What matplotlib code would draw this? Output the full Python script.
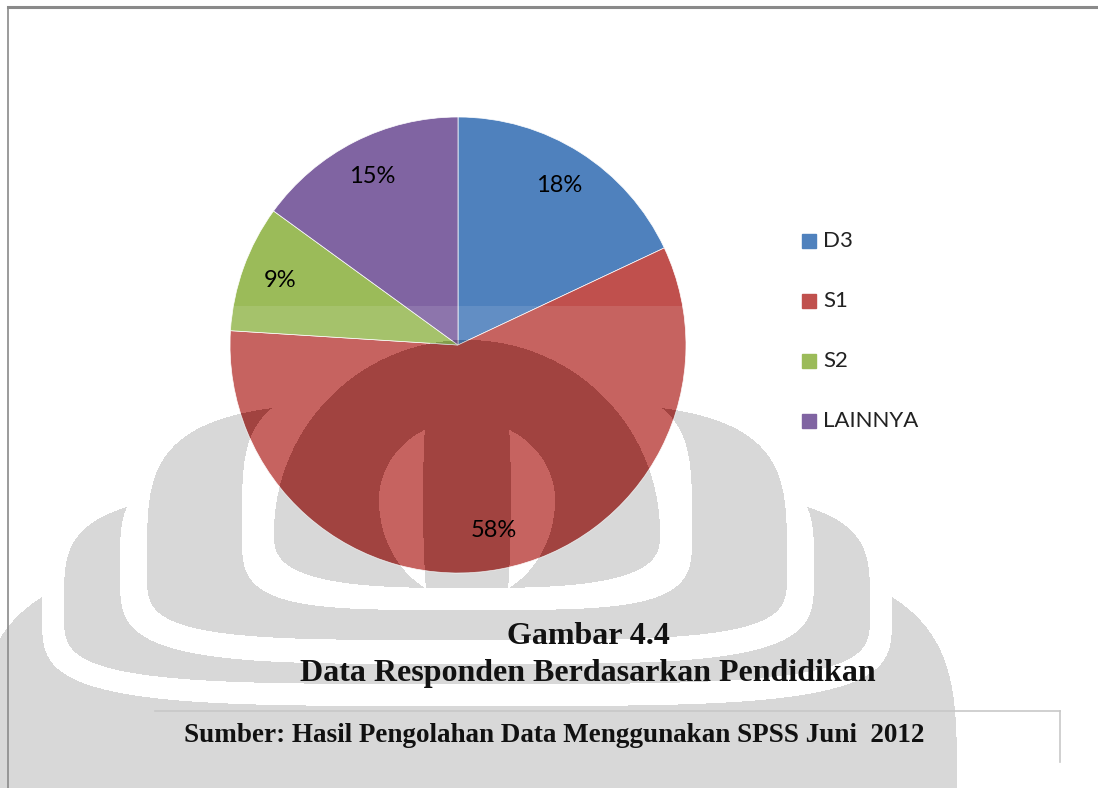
import numpy as np
import matplotlib
matplotlib.use('Agg')
from matplotlib import pyplot as plt
from matplotlib.patches import Circle

# Data
categories = ['D3', 'S1', 'S2', 'LAINNYA']
percent = [18, 58, 9, 15]
colors = ['#4F81BD', '#C0504D', '#9BBB59', '#8064A2']

title_lines = ['Gambar 4.4', 'Data Responden Berdasarkan Pendidikan']
source_text = 'Sumber: Hasil Pengolahan Data Menggunakan SPSS Juni  2012'

W, H = 1098, 788
PIE_C = (458, 345)   # picture coords (row counted from top)
PIE_R = 228

fig = plt.figure(figsize=(W / 100, H / 100), dpi=100)
ax = fig.add_axes([0, 0, 1, 1])

def py(y):
	# convert picture row to axes y
	return H - y

# background watermark (scanned page logo), built as a pixel mask
X, Y = np.meshgrid(np.arange(W) + 0.5, np.arange(H) + 0.5)
XC = 467

def blob(cy, a, bu, bd, p=4):
	b = np.where(Y < cy, bu, bd)
	return (np.abs(X - XC) / a)**p + (np.abs(Y - cy) / b)**p <= 1

L3 = blob(800, 490, 250, 300) & ~blob(610, 425, 80, 96)
L2 = blob(610, 403, 123, 74) & ~blob(570, 347, 119, 94)
L1 = blob(570, 320, 168, 70) & ~blob(530, 225, 150, 80)
# dome: round top, flat-ish bottom
L0 = ((Y < 533) & ((X - XC)**2 + (Y - 533)**2 <= 193**2)) | \
	((Y >= 533) & blob(533, 193, 55, 55, p=3))
lens = blob(500, 88, 80, 100, p=2) & ~blob(500, 44, 250, 250, p=2)
mark = L3 | L2 | L1 | (L0 & ~lens)

bg = np.ones((H, W, 3))
bg[mark] = 0.85
ax.imshow(bg, extent=(0, W, 0, H), origin='upper', interpolation='nearest', zorder=0)

# page frame lines
ax.plot([8, W], [py(7), py(7)], color='#8a8a8a', lw=2.2, zorder=1)
ax.plot([8, 8], [py(7), 0], color='#8a8a8a', lw=1.2, zorder=1)

# pie chart
wedges, texts, autotexts = ax.pie(
	percent, colors=colors, startangle=90, counterclock=False,
	center=(PIE_C[0], py(PIE_C[1])), radius=PIE_R, autopct='%.0f%%', pctdistance=0.83,
	textprops={'fontsize': 17, 'family': ['Lato', 'DejaVu Sans'], 'color': 'black'},
	wedgeprops={'linewidth': 0.5, 'edgecolor': 'white'})
for w in wedges:
	w.set_zorder(2)
for t in autotexts:
	t.set_zorder(5)

# scan shading over the pie: darker under the logo, lighter elsewhere in the lower part
ov = np.zeros((H, W, 4))
lower = Y > 306
ov[lower & ~mark] = [1, 1, 1, 0.11]
ov[mark] = [0, 0, 0, 0.16]
im = ax.imshow(ov, extent=(0, W, 0, H), origin='upper', interpolation='nearest', zorder=3)
clip = Circle((PIE_C[0], py(PIE_C[1])), PIE_R, transform=ax.transData)
im.set_clip_path(clip)

ax.set_xlim(0, W)
ax.set_ylim(0, H)
ax.set_aspect('auto')
ax.axis('off')

# legend
leg_y = [241, 301, 361, 421]
for name, col, yy in zip(categories, colors, leg_y):
	ax.add_patch(plt.Rectangle((802, py(yy) - 7), 14, 14, color=col, zorder=4))
	ax.text(823, py(yy), name, fontsize=16, family=['Lato', 'DejaVu Sans'],
		va='center', ha='left', color='#222222', zorder=5)

# caption
ax.text(588, py(636), title_lines[0], fontsize=23, fontweight='bold',
	family='Liberation Serif', ha='center', va='center', color='#111111', zorder=5)
ax.text(588, py(673), title_lines[1], fontsize=23, fontweight='bold',
	family='Liberation Serif', ha='center', va='center', color='#111111', zorder=5)

# source box
ax.plot([155, 1060], [py(711), py(711)], color='#c8c8c8', lw=1.2, zorder=4)
ax.plot([1060, 1060], [py(711), py(762)], color='#c8c8c8', lw=1.2, zorder=4)
ax.text(554, py(735), source_text, fontsize=19.5, fontweight='bold',
	family='Liberation Serif', ha='center', va='center', color='#111111', zorder=5)

fig.savefig('out.png', dpi=100)
